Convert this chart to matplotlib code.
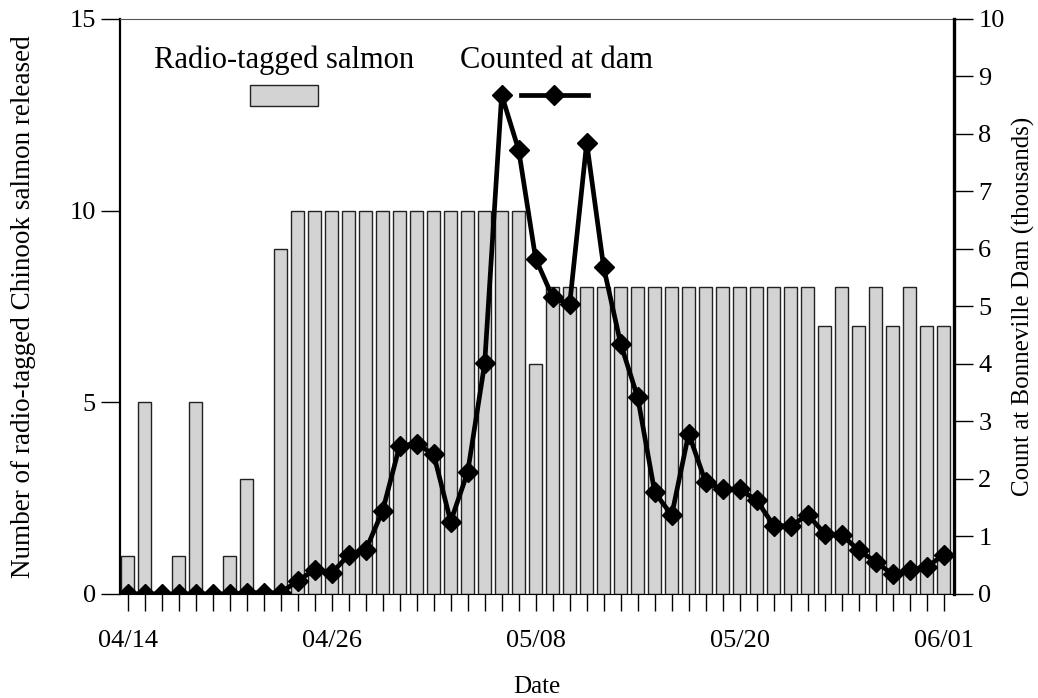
import numpy as np
import matplotlib as mpl
mpl.use("Agg")
from matplotlib import pyplot as plt
from matplotlib.patches import Rectangle
from matplotlib.lines import Line2D

plt.rcParams['font.family'] = ['Liberation Serif', 'DejaVu Serif']

# days from 04/14 to 06/01
days = np.arange(49)
tick_days = [0, 12, 24, 36, 48]
tick_labels = ["04/14", "04/26", "05/08", "05/20", "06/01"]

# radio-tagged salmon released per day
released = [1, 5, 0, 1, 5, 0, 1, 3, 0, 9,
            10, 10, 10, 10, 10, 10, 10, 10, 10, 10,
            10, 10, 10, 10, 6, 8, 8, 8, 8, 8,
            8, 8, 8, 8, 8, 8, 8, 8, 8, 8,
            8, 7, 8, 7, 8, 7, 8, 7, 7]

# count at Bonneville Dam (thousands)
counted = [0, 0, 0, 0, 0, 0, 0, 0.02, 0.02, 0.02,
           0.23, 0.42, 0.36, 0.68, 0.76, 1.45, 2.58, 2.61, 2.43, 1.26,
           2.12, 4.01, 8.68, 7.72, 5.83, 5.16, 5.04, 7.85, 5.68, 4.35,
           3.42, 1.77, 1.37, 2.79, 1.94, 1.82, 1.82, 1.63, 1.19, 1.18,
           1.38, 1.05, 1.03, 0.76, 0.56, 0.34, 0.42, 0.47, 0.68]

FS = 19

def main():
    fig = plt.figure(figsize=(10.38, 6.98), dpi=100)
    ax = fig.add_axes([0.1156, 0.149, 0.919 - 0.1156, 0.9728 - 0.149])
    ax.bar(days, released, width=0.75, color="#d3d3d3", edgecolor="#222222", linewidth=1.0)
    ax.set_xlim(-0.45, 48.6)
    ax.set_ylim(0, 15)
    ax.set_yticks([0, 5, 10, 15])
    ax.set_xticks(days, minor=True)
    ax.set_xticks(tick_days)
    ax.set_xticklabels(tick_labels)
    ax.tick_params(axis="x", which="both", direction="out", length=12, width=1, pad=14, labelsize=FS)
    ax.tick_params(axis="y", direction="out", length=14, width=1, labelsize=FS)
    ax.spines["left"].set_linewidth(1.6)
    ax.spines["top"].set_linewidth(0.8)
    ax.spines["top"].set_color("#555555")
    ax.spines["bottom"].set_linewidth(0.8)
    ax.spines["right"].set_visible(False)
    ax.set_xlabel("Date", fontsize=FS - 1, labelpad=17)
    ax.set_ylabel("Number of radio-tagged Chinook salmon released", fontsize=FS + 0.5, labelpad=24)

    ax2 = ax.twinx()
    ax2.plot(days, counted, color="black", linewidth=3.4, marker="D", markersize=10)
    ax2.set_ylim(0, 10)
    ax2.set_yticks(range(11))
    ax2.tick_params(axis="y", direction="out", length=14, width=1, labelsize=FS)
    ax2.spines["right"].set_linewidth(2.4)
    for s in ["left", "top", "bottom"]:
        ax2.spines[s].set_visible(False)
    ax2.set_ylabel("Count at Bonneville Dam (thousands)", fontsize=FS - 1, labelpad=5)

    # legend drawn by hand: labels above their keys
    ax.text(0.197, 0.928, "Radio-tagged salmon", transform=ax.transAxes,
            ha="center", va="center", fontsize=22)
    ax.add_patch(Rectangle((0.156, 0.849), 0.081, 0.036, transform=ax.transAxes,
                           facecolor="#d3d3d3", edgecolor="#222222", linewidth=1.0, clip_on=False))
    ax.text(0.523, 0.928, "Counted at dam", transform=ax.transAxes,
            ha="center", va="center", fontsize=22)
    ax.add_line(Line2D([0.481, 0.561], [0.868, 0.868], transform=ax.transAxes,
                       color="black", linewidth=3.4, clip_on=False))
    ax.add_line(Line2D([0.521], [0.868], transform=ax.transAxes, color="black",
                       marker="D", markersize=10, clip_on=False))

    fig.savefig("out.png", dpi=100)

if __name__ == '__main__':
    main()
